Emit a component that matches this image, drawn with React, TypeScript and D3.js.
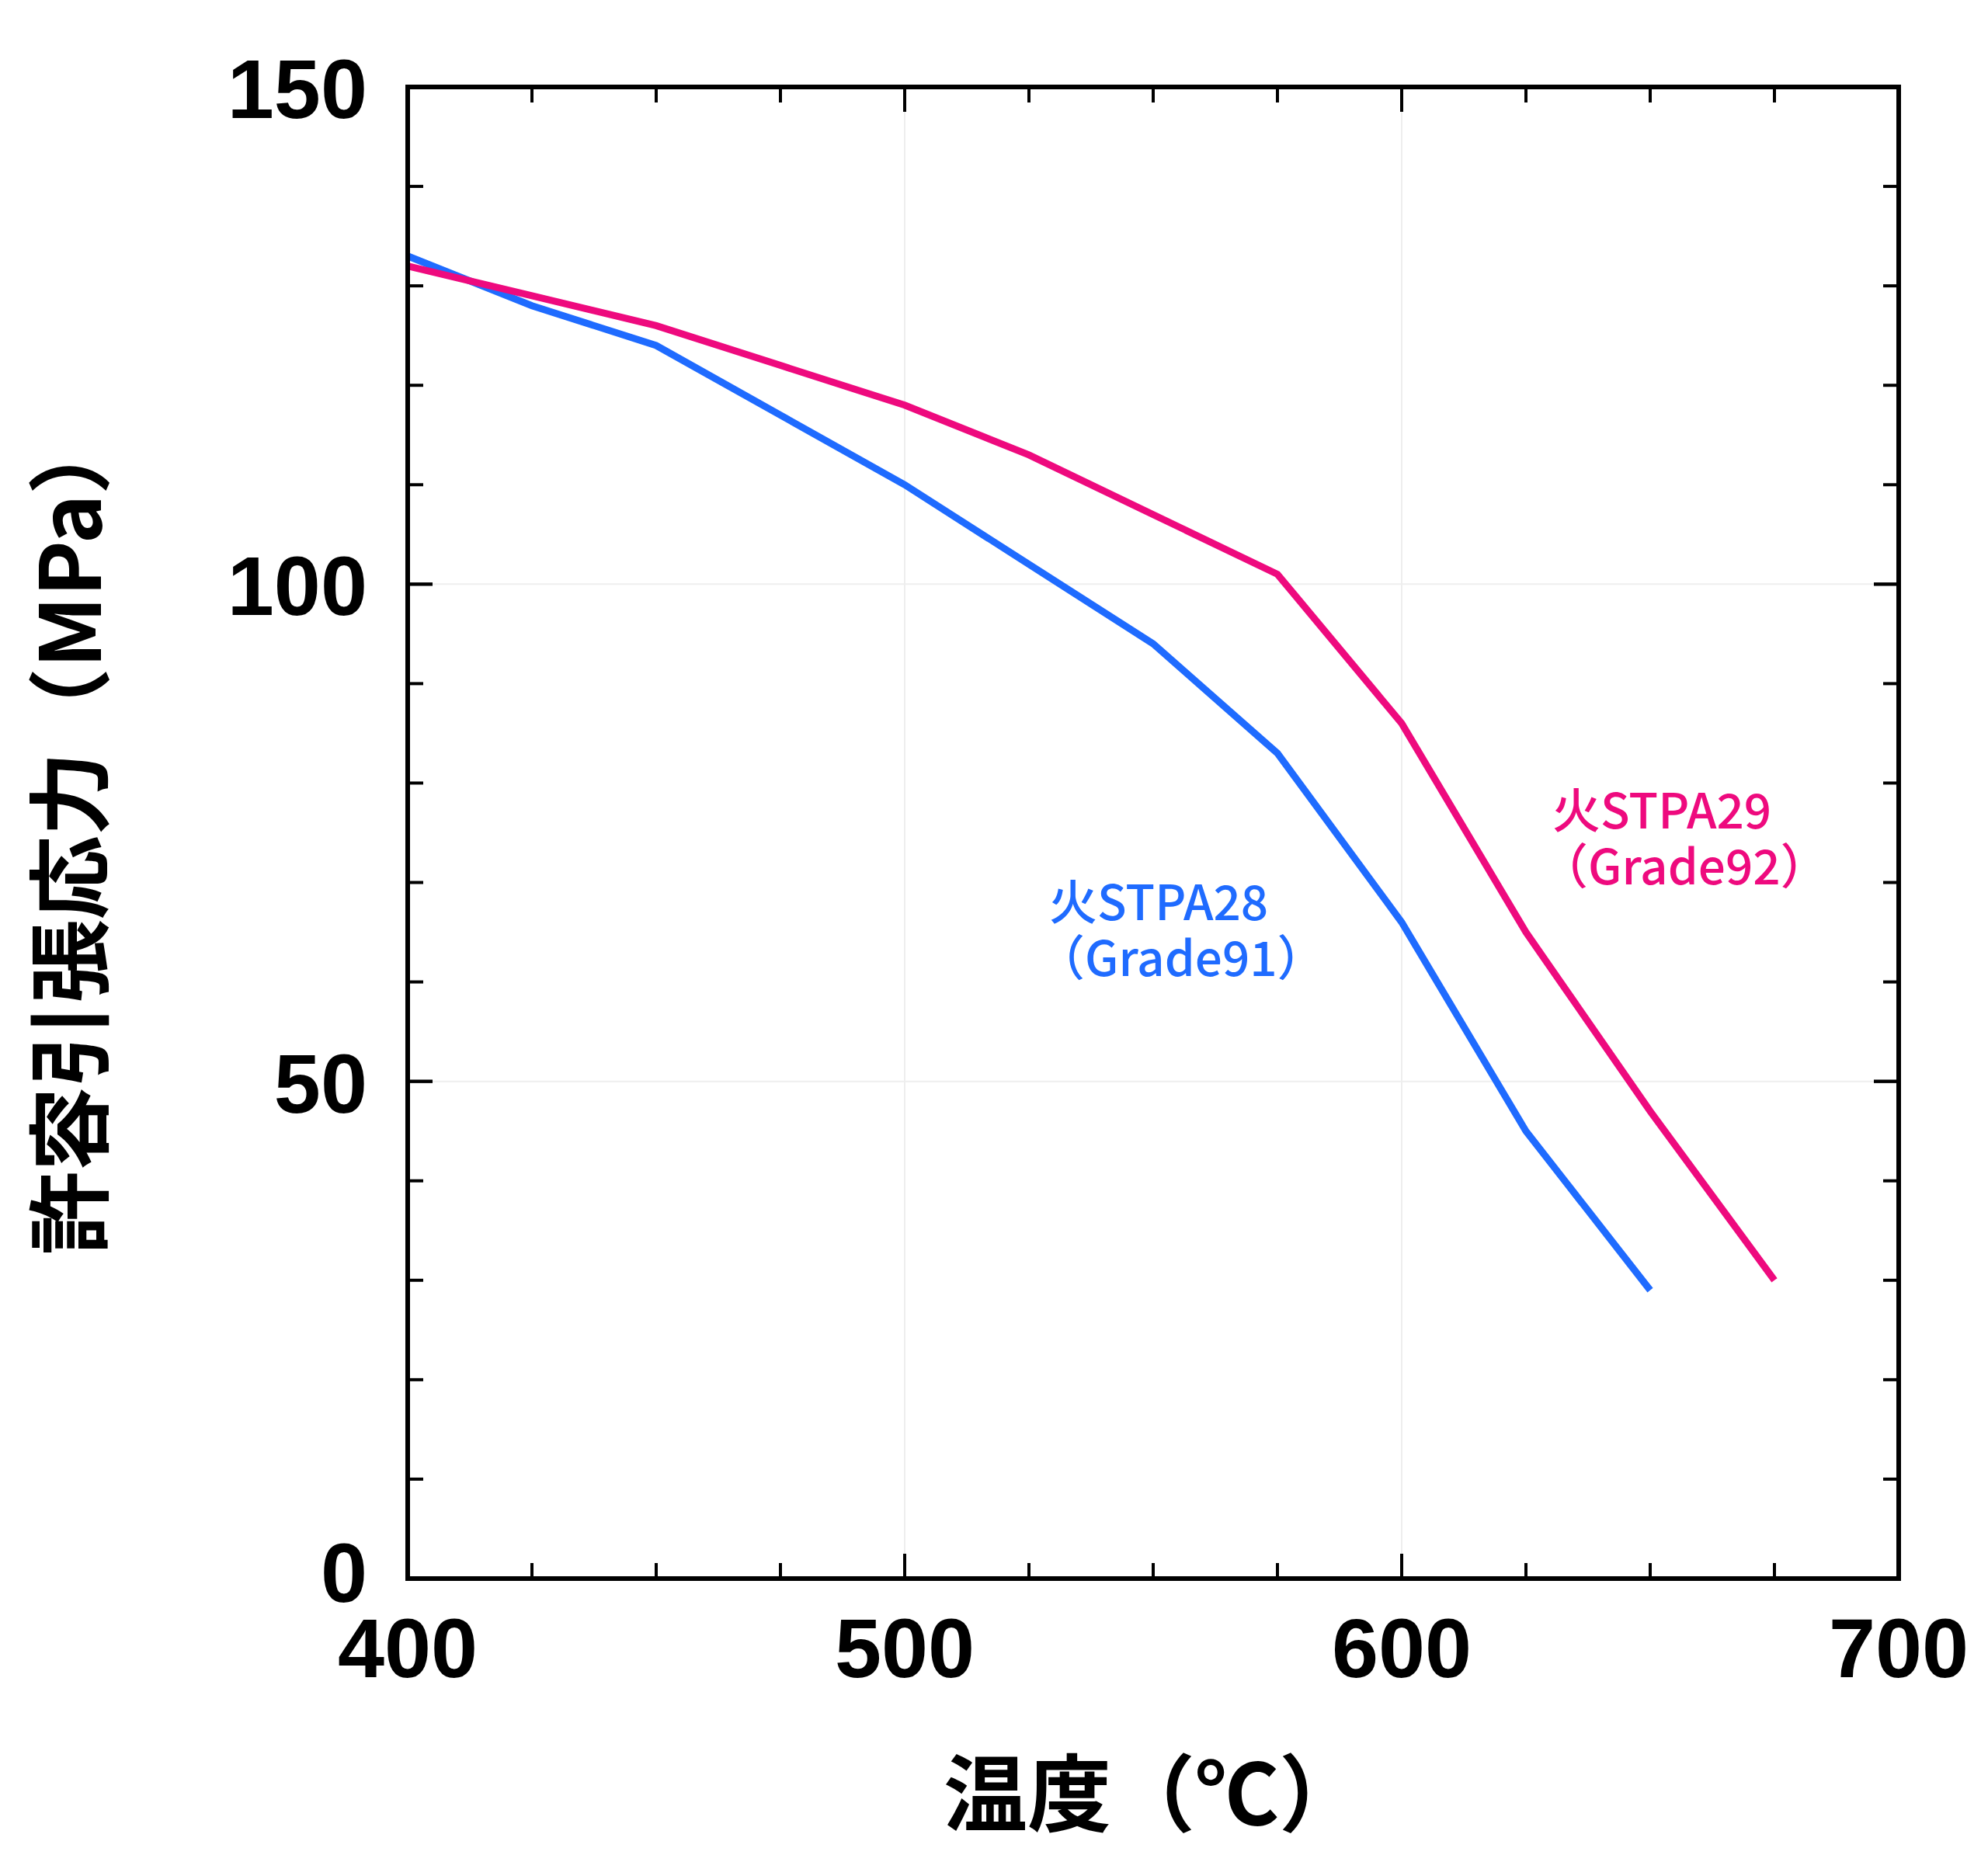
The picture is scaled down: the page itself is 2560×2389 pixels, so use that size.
import * as d3 from "d3";

const grade91X = [400, 425, 450, 475, 500, 525, 550, 575, 600, 625, 650];
const grade91Y = [133, 128, 124, 117, 110, 102, 94, 83, 66, 45, 29];
const grade92X = [400, 425, 450, 475, 500, 525, 550, 575, 600, 625, 650, 675];
const grade92Y = [132, 129, 126, 122, 118, 113, 107, 101, 86, 65, 47, 30];
const xTicks = [400, 500, 600, 700];
const yTicks = [0, 50, 100, 150];

const W = 2560, H = 2389;
const L = 525, R = 2445, T = 112, B = 2033;

export default function App() {
  const x = d3.scaleLinear().domain([400, 700]).range([L, R]);
  const y = d3.scaleLinear().domain([0, 150]).range([B, T]);
  const line = d3.line<[number, number]>().x((d) => x(d[0])).y((d) => y(d[1]));
  const minorX = d3.range(400, 701, 25);
  const minorY = d3.range(0, 151, 10);
  const font = "'Noto Sans CJK JP', 'Noto Sans', sans-serif";
  const numFont = "'Liberation Sans', Arial, sans-serif";

  return (
    <svg width={W} height={H} style={{ display: "block", margin: "-8px" }} fontFamily={font}>
      <rect width={W} height={H} fill="#fff" />
      {xTicks.map((t) => (
        <line key={"gx" + t} x1={x(t)} x2={x(t)} y1={T} y2={B} stroke="#eee" strokeWidth={2} />
      ))}
      {yTicks.map((t) => (
        <line key={"gy" + t} x1={L} x2={R} y1={y(t)} y2={y(t)} stroke="#eee" strokeWidth={2} />
      ))}
      {minorX.map((t) => {
        const len = t % 100 === 0 ? 32 : 20;
        return (
          <g key={"tx" + t} stroke="#000" strokeWidth={4}>
            <line x1={x(t)} x2={x(t)} y1={B} y2={B - len} />
            <line x1={x(t)} x2={x(t)} y1={T} y2={T + len} />
          </g>
        );
      })}
      {minorY.concat(yTicks).map((t, i) => {
        const len = t % 50 === 0 ? 32 : 20;
        return (
          <g key={"ty" + i} stroke="#000" strokeWidth={4}>
            <line x1={L} x2={L + len} y1={y(t)} y2={y(t)} />
            <line x1={R} x2={R - len} y1={y(t)} y2={y(t)} />
          </g>
        );
      })}
      <path d={line(grade91X.map((v, i) => [v, grade91Y[i]]) as any) || ""} fill="none" stroke="#1f6bff" strokeWidth={9} />
      <path d={line(grade92X.map((v, i) => [v, grade92Y[i]]) as any) || ""} fill="none" stroke="#ee0a7e" strokeWidth={9} />
      <rect x={L} y={T} width={R - L} height={B - T} fill="none" stroke="#000" strokeWidth={6} />
      {xTicks.map((t) => (
        <text key={"lx" + t} x={x(t)} y={2160} textAnchor="middle" fontSize={108} fontWeight="bold" fontFamily={numFont}>{t}</text>
      ))}
      {yTicks.map((t) => (
        <text key={"ly" + t} x={473} y={y(t) + (t === 0 ? 30 : 40)} textAnchor="end" fontSize={108} fontWeight="bold" fontFamily={numFont}>{t}</text>
      ))}
      <text x={1485} y={2350} textAnchor="middle" fontSize={108} fontWeight="bold">温度（℃）</text>
      <text transform={`translate(130,${(T + B) / 2}) rotate(-90)`} textAnchor="middle" fontSize={108} fontWeight="bold">許容引張応力（MPa）</text>
      <g fontSize={62} fontWeight={500} fill="#1f6bff">
        <text x={1351} y={1185}>火STPA28</text>
        <text x={1335} y={1257}>（Grade91）</text>
      </g>
      <g fontSize={62} fontWeight={500} fill="#ee0a7e">
        <text x={1999} y={1067}>火STPA29</text>
        <text x={1983} y={1139}>（Grade92）</text>
      </g>
    </svg>
  );
}
